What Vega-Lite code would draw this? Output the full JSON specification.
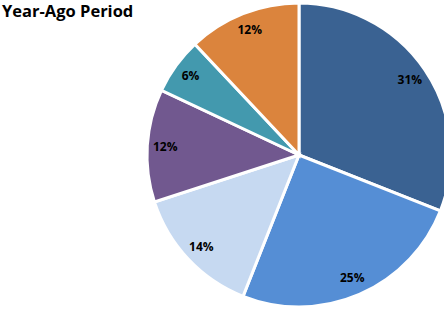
{
  "$schema": "https://vega.github.io/schema/vega-lite/v6.json",
  "width": 304,
  "height": 304,
  "autosize": {"type": "none"},
  "padding": {"left": 147, "top": 3, "right": 0, "bottom": 0},
  "background": "white",
  "title": {
    "text": "Year-Ago Period",
    "anchor": "start",
    "frame": "group",
    "orient": "top",
    "baseline": "top",
    "offset": 0,
    "dx": -145,
    "dy": 23,
    "font": "Open Sans",
    "fontSize": 16.5,
    "fontWeight": "bold",
    "color": "#000000"
  },
  "data": {
    "values": [
      {"segment": "S1", "idx": 1, "share": 31, "label": "31%"},
      {"segment": "S2", "idx": 2, "share": 25, "label": "25%"},
      {"segment": "S3", "idx": 3, "share": 14, "label": "14%"},
      {"segment": "S4", "idx": 4, "share": 12, "label": "12%"},
      {"segment": "S5", "idx": 5, "share": 6, "label": "6%"},
      {"segment": "S6", "idx": 6, "share": 12, "label": "12%"}
    ]
  },
  "encoding": {
    "theta": {"field": "share", "type": "quantitative", "stack": true},
    "order": {"field": "idx", "type": "quantitative"}
  },
  "layer": [
    {
      "mark": {"type": "arc", "stroke": "white", "strokeWidth": 3},
      "encoding": {
        "color": {
          "field": "segment",
          "type": "nominal",
          "scale": {
            "domain": ["S1", "S2", "S3", "S4", "S5", "S6"],
            "range": ["#3A6292", "#558ED5", "#C6D9F1", "#71588F", "#4399AE", "#DB843D"]
          },
          "legend": null
        }
      }
    },
    {
      "mark": {"type": "text", "radius": 134, "font": "Open Sans", "fontSize": 12, "fontWeight": "bold", "color": "#000000"},
      "encoding": {
        "text": {"field": "label", "type": "nominal"}
      }
    }
  ]
}
